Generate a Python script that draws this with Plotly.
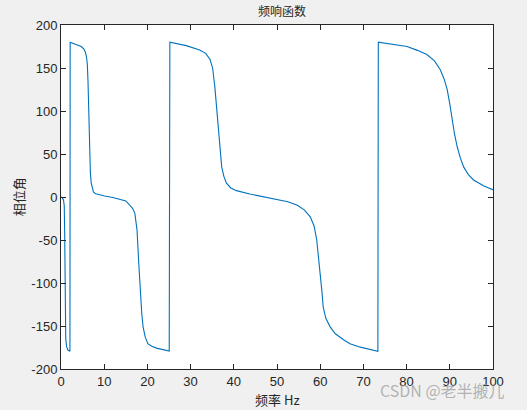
import plotly.graph_objects as go

freq_hz = [0.0, 0.3, 0.58, 0.75, 0.85, 0.97, 1.1, 1.3, 1.58, 1.97, 2.07,
           2.12, 3.0, 4.0, 4.7, 5.3, 5.6, 5.9, 6.1, 6.25, 6.4, 6.6, 6.8, 7.0, 7.2, 7.5, 8.0, 9.0, 10.1, 12.0, 14.0,
           15.0, 15.9, 16.6, 17.1, 17.6, 18.0, 18.4, 18.7, 19.0, 19.5, 20.1, 21.0, 22.1, 23.5, 25.05,
           25.2, 27.0, 29.0, 32.1, 33.5, 34.5, 35.1, 35.6, 36.0, 36.4, 36.8, 37.2, 37.7, 38.3, 39.3, 40.6, 43.7,
           46.5, 49.9, 52.5, 54.6, 56.3, 57.7, 58.6, 59.2, 59.6, 60.0, 60.4, 60.7, 61.3, 62.3, 63.5, 65.4,
           66.9, 69.3, 71.5, 73.35,
           73.45, 76.0, 80.1, 82.5, 84.7, 86.5, 87.8, 88.7, 89.4, 90.0, 90.5, 91.1, 91.7, 92.4, 93.2, 94.3,
           95.5, 96.7, 97.9, 99.0, 100.0]

phase_deg = [0.0, -1.0, -3.5, -10.0, -40.0, -140.0, -165.0, -174.0, -178.0, -179.0, -179.5,
             180.0, 178.5, 177.0, 175.0, 172.0, 169.0, 163.0, 154.0, 135.0, 96.0, 55.0, 28.0, 16.0, 10.0, 6.0, 3.8, 2.2, 1.2, -0.5, -2.7,
             -4.5, -9.3, -13.5, -19.0, -38.5, -77.0, -116.0, -136.0, -151.0, -163.0, -170.6, -173.5, -175.7, -177.5, -179.2,
             180.0, 178.0, 176.0, 171.0, 167.0, 160.0, 150.0, 128.6, 107.0, 82.0, 55.0, 35.0, 24.0, 16.0, 10.5, 7.4, 3.5,
             0.8, -2.3, -5.5, -9.3, -15.0, -23.0, -34.0, -50.0, -68.0, -89.0, -110.0, -128.0, -141.0, -151.0, -159.0, -166.0,
             -170.6, -174.6, -177.0, -179.3,
             180.0, 178.0, 175.0, 170.5, 165.6, 158.0, 148.0, 137.0, 124.8, 108.0, 89.8, 73.0, 58.7, 46.0, 35.0, 26.0,
             19.8, 15.8, 12.8, 10.5, 8.5]

x_ticks = [0, 10, 20, 30, 40, 50, 60, 70, 80, 90, 100]
y_ticks = [-200, -150, -100, -50, 0, 50, 100, 150, 200]

fig = go.Figure()
fig.add_trace(go.Scatter(x=freq_hz, y=phase_deg, mode="lines",
                         line=dict(color="#0072BD", width=1.1, shape="linear"),
                         showlegend=False, hoverinfo="x+y"))

axis_common = dict(showgrid=False, zeroline=False, showline=True, linecolor="#262626", linewidth=1,
                   mirror="ticks", ticks="inside", ticklen=5, tickcolor="#262626", automargin=False,
                   tickfont=dict(family="Liberation Sans, Arial, sans-serif", size=13, color="#262626"))

label_font = dict(family="Noto Sans CJK SC, Liberation Sans, sans-serif", size=13, color="#262626")

fig.update_layout(
    width=527, height=410,
    paper_bgcolor="#f0f0f0", plot_bgcolor="#ffffff",
    margin=dict(l=61, r=34, t=25, b=41, autoexpand=False),
    title=dict(text="频响函数", x=0.535, xanchor="center", y=0.972, yanchor="middle",
               font=dict(family="Noto Sans CJK SC, sans-serif", size=12, color="#262626")),
    xaxis=dict(range=[0, 100], tickvals=x_ticks, ticktext=[str(v) for v in x_ticks], **axis_common),
    yaxis=dict(range=[-200, 200], tickvals=y_ticks, ticktext=[str(v) for v in y_ticks], **axis_common),
    annotations=[
        dict(text="频率 Hz", xref="paper", yref="paper", x=0.5, y=-0.09,
             xanchor="center", yanchor="middle", showarrow=False, font=label_font),
        dict(text="相位角", xref="paper", yref="paper", x=-0.099, y=0.5, textangle=-90,
             xanchor="center", yanchor="middle", showarrow=False, font=label_font),
        dict(text="CSDN @老半搬儿", xref="paper", yref="paper", x=1.032, y=-0.061,
             xanchor="right", yanchor="middle", showarrow=False,
             font=dict(family="Noto Sans CJK SC, sans-serif", size=16, color="rgba(150,150,150,0.7)")),
    ],
)

fig.write_html("out.html", config={"displayModeBar": False},
               post_script="document.body.style.margin='0';document.body.style.background='#f0f0f0';")
